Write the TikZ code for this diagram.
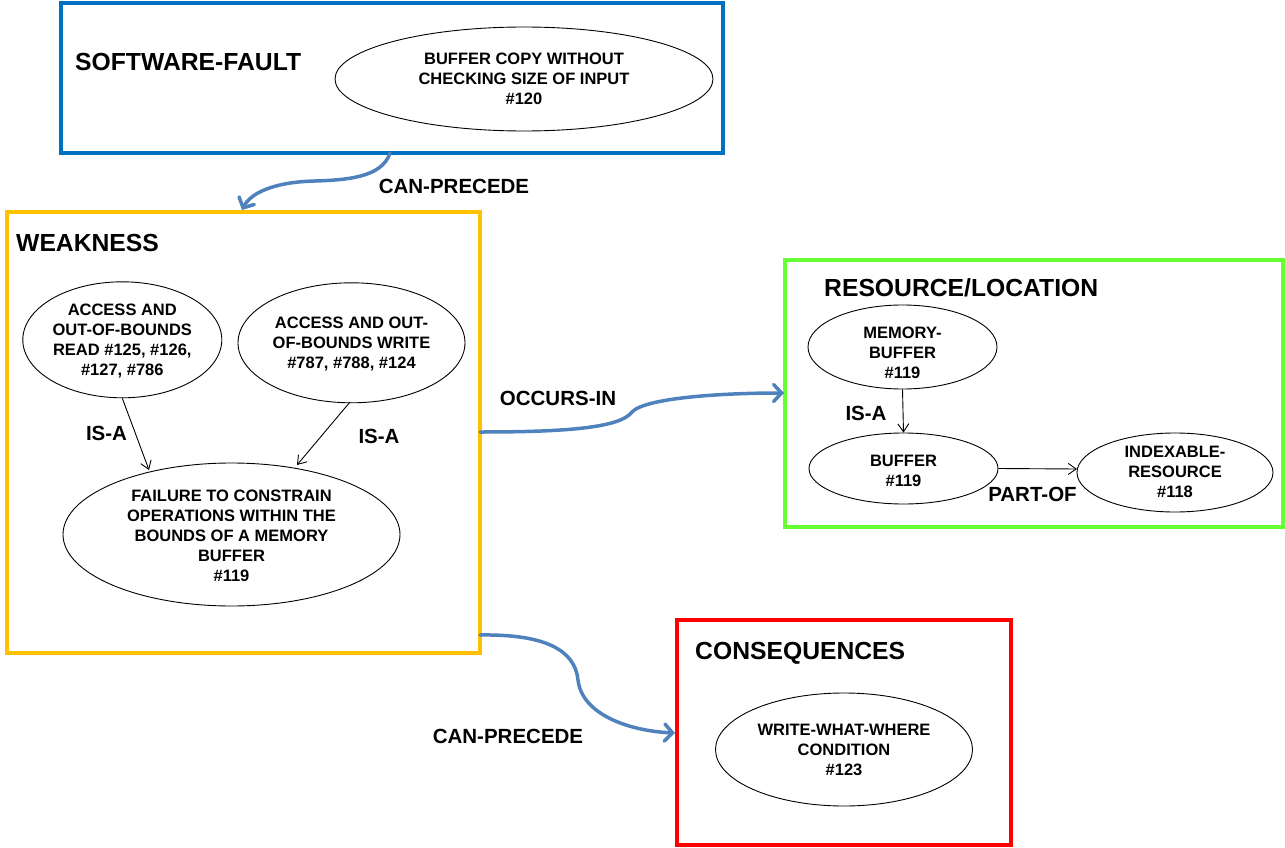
\documentclass[tikz,border=0pt]{standalone}
\usepackage{fontspec}
\setmainfont{Liberation Sans}
\usetikzlibrary{shapes.geometric,arrows.meta}
\definecolor{sfblue}{RGB}{0,112,192}
\definecolor{wkgold}{RGB}{255,192,0}
\definecolor{rsgreen}{RGB}{102,255,51}
\definecolor{csred}{RGB}{255,0,0}
\definecolor{linkblue}{RGB}{79,129,189}
\newcommand{\ovaltext}[2]{\smash{\raisebox{#1}{\begin{tabular}{@{}c@{}}#2\end{tabular}}}}
\tikzset{
  box/.style={draw, line width=4pt, rectangle, inner sep=0pt},
  oval/.style={draw, line width=0.9pt, ellipse, inner xsep=-80pt, inner ysep=-60pt,
    font=\bfseries\fontsize{16.5}{20}\selectfont},
  ttl/.style={anchor=base west, inner sep=0pt, font=\bfseries\fontsize{24.7}{29}\selectfont},
  lbl/.style={inner sep=0pt, font=\bfseries\fontsize{20.5}{24}\selectfont},
  rel/.style={line width=3.5pt, draw=linkblue, line cap=round,
    -{Straight Barb[length=8pt,width=17pt,line cap=round]}},
  thin/.style={line width=0.9pt, -{Straight Barb[length=8pt,width=11pt]}}
}
\begin{document}
\begin{tikzpicture}[x=1pt,y=-1pt]
\useasboundingbox (0,0) rectangle (1285,848);
% boxes
\node[box, draw=sfblue, minimum width=662pt, minimum height=150pt] (sf) at (392,78) {};
\node[box, draw=wkgold, minimum width=473pt, minimum height=441pt] (wk) at (243.5,432.5) {};
\node[box, draw=rsgreen, minimum width=498pt, minimum height=267pt] (rs) at (1034,393.5) {};
\node[box, draw=csred, minimum width=334pt, minimum height=225pt] (cs) at (844,732.5) {};
% titles
\node[ttl] (tsf) at (75,71) {SOFTWARE-FAULT};
\node[ttl] (twk) at (16,251) {WEAKNESS};
\node[ttl] (trs) at (824,296) {RESOURCE/LOCATION};
\node[ttl] (tcs) at (695,659) {CONSEQUENCES};
% ellipses
\node[oval, minimum width=378pt, minimum height=104pt] (bc) at (524,79) {\ovaltext{-6pt}{BUFFER COPY WITHOUT\\CHECKING SIZE OF INPUT\\\#120}};
\node[oval, minimum width=199pt, minimum height=116pt] (rd) at (122.3,339.8) {\ovaltext{-6pt}{ACCESS AND\\OUT-OF-BOUNDS\\READ \#125, \#126,\\\#127, \#786}};
\node[oval, minimum width=227pt, minimum height=120pt] (wr) at (351.5,342.8) {\ovaltext{-6pt}{ACCESS AND OUT-\\OF-BOUNDS WRITE\\\#787, \#788, \#124}};
\node[oval, minimum width=337pt, minimum height=143pt] (fl) at (231.5,534.5) {\ovaltext{-7.5pt}{FAILURE TO CONSTRAIN\\OPERATIONS WITHIN THE\\BOUNDS OF A MEMORY\\BUFFER\\\#119}};
\node[oval, minimum width=189pt, minimum height=84pt] (mb) at (902.5,347) {\ovaltext{-11.7pt}{MEMORY-\\BUFFER\\\#119}};
\node[oval, minimum width=189pt, minimum height=71pt] (bf) at (903.5,468.5) {\ovaltext{-8.5pt}{BUFFER\\\#119}};
\node[oval, minimum width=196pt, minimum height=79pt] (ix) at (1175,472.5) {\ovaltext{-5.5pt}{INDEXABLE-\\RESOURCE\\\#118}};
\node[oval, minimum width=257pt, minimum height=113pt] (ww) at (844,749.5) {\ovaltext{-6.5pt}{WRITE-WHAT-WHERE\\CONDITION\\\#123}};
% thin relations
\coordinate (a1) at (149,470);
\coordinate (a2) at (297,465);
\coordinate (s2) at (350,402);
\coordinate (a4) at (1077,469);
\draw[thin] (rd.south) -- (a1);
\draw[thin] (s2) -- (a2);
\draw[thin] (mb.south) -- (bf.north);
\draw[thin] (bf.east) -- (a4);
\node[lbl] (l1) at (106.5,433) {IS-A};
\node[lbl] (l2) at (379,436) {IS-A};
\node[lbl] (l3) at (866,413) {IS-A};
\node[lbl] (l4) at (1032.5,494.5) {PART-OF};
% blue relations
\coordinate (p1s) at (390,153);
\coordinate (p1e) at (242,210);
\draw[rel] (p1s) .. controls (382,178) and (345,180) .. (315,181)
  .. controls (272,182) and (250,194) .. (p1e);
\coordinate (p2s) at (480,432);
\coordinate (p2e) at (784,393);
\draw[rel] (p2s) .. controls (565,432) and (620,428) .. (632,412)
  .. controls (645,398) and (720,393) .. (p2e);
\coordinate (p3s) at (480,635);
\coordinate (p3e) at (675,733);
\draw[rel] (p3s) .. controls (545,634) and (575,650) .. (578,680)
  .. controls (582,715) and (630,731) .. (p3e);
\node[lbl] (l5) at (454,186) {CAN-PRECEDE};
\node[lbl] (l6) at (558,398) {OCCURS-IN};
\node[lbl] (l7) at (508,736) {CAN-PRECEDE};
\end{tikzpicture}
\end{document}
